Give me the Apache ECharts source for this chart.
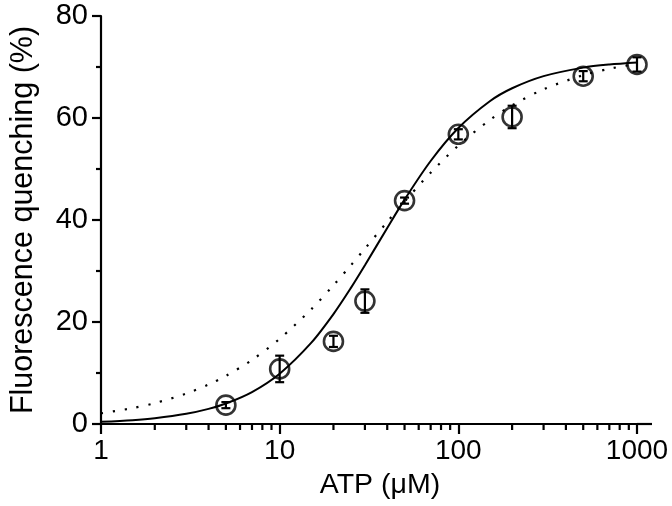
<!DOCTYPE html>
<html>
<head>
<meta charset="utf-8">
<script src="https://cdn.jsdelivr.net/npm/echarts@6/dist/echarts.min.js"></script>
<style>
html,body{margin:0;padding:0;background:#fff;}
#chart{width:672px;height:506px;}
</style>
</head>
<body>
<div id="chart"></div>
<script>
// Measured data points (ATP µM, quenching %, error)
const atp = [5, 10, 20, 30, 50, 100, 200, 500, 1000];
const quench = [3.7, 10.8, 16.2, 24.1, 43.8, 56.8, 60.2, 68.2, 70.5];
const quenchErr = [0.6, 2.6, 1.1, 2.3, 0.6, 1.0, 2.2, 1.0, 1.4];

// Curves
const curveX = [1, 1.5, 2, 3, 4, 5, 7, 10, 15, 20, 25, 30, 40, 50, 70, 100, 150, 200, 300, 500, 700, 1000];
const solidCurve = [0.42, 0.75, 1.13, 1.99, 2.96, 4.01, 6.27, 9.87, 15.9, 21.55, 26.64, 31.12, 38.44, 44.0, 51.57, 58.03, 63.28, 65.83, 68.21, 69.88, 70.49, 70.89];
const dottedCurve = [2.1, 3.11, 4.09, 5.97, 7.75, 9.43, 12.56, 16.7, 22.48, 27.19, 31.09, 34.38, 39.62, 43.61, 49.28, 54.6, 59.61, 62.47, 65.63, 68.39, 69.65, 70.62];

// Axis ticks
const xMinorTicks = [2, 3, 4, 5, 6, 7, 8, 9, 20, 30, 40, 50, 60, 70, 80, 90, 200, 300, 400, 500, 600, 700, 800, 900];
const xTickLabels = ['1', '10', '100', '1000'];

const FONT = "'Liberation Sans', Arial, Helvetica, sans-serif";
const chart = echarts.init(document.getElementById('chart'), null, {renderer: 'canvas'});

const pairs = (xs, ys) => xs.map((x, i) => [x, ys[i]]);

const option = {
  backgroundColor: '#fff',
  animation: false,
  grid: {left: 97, right: 35, top: 16, bottom: 82, containLabel: false},
  xAxis: {
    type: 'log', logBase: 10, min: 1, max: 1000,
    name: 'ATP (\u03bcM)', nameLocation: 'middle', nameGap: 47,
    nameTextStyle: {fontFamily: FONT, fontSize: 28.5, color: '#000', padding: [0, 0, 0, 22]},
    axisLine: {show: true, onZero: false, lineStyle: {color: '#000', width: 2.2}},
    axisTick: {show: true, length: 10, lineStyle: {color: '#000', width: 2.2}},
    axisLabel: {fontFamily: FONT, fontSize: 28, color: '#000', margin: 13,
      formatter: v => { const r = Math.round(v); return xTickLabels.indexOf(String(r)) >= 0 ? String(r) : ''; }},
    splitLine: {show: false}, minorTick: {show: false}
  },
  yAxis: {
    type: 'value', min: 0, max: 80, interval: 20,
    name: 'Fluorescence quenching (%)', nameLocation: 'middle', nameGap: 62,
    nameTextStyle: {fontFamily: FONT, fontSize: 30.5, color: '#000'},
    axisLine: {show: true, lineStyle: {color: '#000', width: 2.2}},
    axisTick: {show: true, length: 9, lineStyle: {color: '#000', width: 2.2}},
    minorTick: {show: true, splitNumber: 2, length: 5, lineStyle: {color: '#000', width: 2.2}},
    axisLabel: {fontFamily: FONT, fontSize: 29, color: '#000', margin: 13},
    splitLine: {show: false}
  },
  series: [
    {
      type: 'line', name: 'fit', data: pairs(curveX, solidCurve), smooth: 0.3,
      symbol: 'none', lineStyle: {color: '#000', width: 2}, z: 2
    },
    {
      type: 'line', name: 'fit2', data: pairs(curveX, dottedCurve), smooth: 0.3,
      symbol: 'none', lineStyle: {color: '#000', width: 2.2, type: [2.2, 9.8]}, z: 2
    },
    {
      type: 'scatter', name: 'data', data: pairs(atp, quench),
      symbol: 'circle', symbolSize: 19,
      itemStyle: {color: 'rgba(0,0,0,0)', borderColor: '#000', borderWidth: 2.6}, z: 3
    },
    {
      type: 'custom', name: 'err', z: 4,
      data: atp.map((x, i) => [x, quench[i] - quenchErr[i], quench[i] + quenchErr[i]]),
      renderItem: (params, api) => {
        const lo = api.coord([api.value(0), api.value(1)]);
        const hi = api.coord([api.value(0), api.value(2)]);
        const w = 4.5;
        const st = {stroke: '#000', lineWidth: 2.2};
        return {type: 'group', children: [
          {type: 'line', shape: {x1: lo[0], y1: lo[1], x2: hi[0], y2: hi[1]}, style: st},
          {type: 'line', shape: {x1: lo[0] - w, y1: lo[1], x2: lo[0] + w, y2: lo[1]}, style: st},
          {type: 'line', shape: {x1: hi[0] - w, y1: hi[1], x2: hi[0] + w, y2: hi[1]}, style: st}
        ]};
      }
    },
    {
      type: 'custom', name: 'minorTicks', z: 5, clip: false, silent: true,
      data: xMinorTicks.map(v => [v]),
      renderItem: (params, api) => {
        const p = api.coord([api.value(0), 0]);
        return {type: 'line', shape: {x1: p[0], y1: p[1], x2: p[0], y2: p[1] + 6},
          style: {stroke: '#000', lineWidth: 2.2}};
      }
    }
  ]
};
chart.setOption(option);

// extend the x axis line a little beyond the last decade, as in the reference
const pEnd = chart.convertToPixel({xAxisIndex: 0, yAxisIndex: 0}, [1000, 0]);
chart.setOption({graphic: [{type: 'line', shape: {x1: pEnd[0], y1: pEnd[1], x2: pEnd[0] + 15, y2: pEnd[1]},
  style: {stroke: '#000', lineWidth: 2.2}, z: 10}]});
</script>
</body>
</html>
